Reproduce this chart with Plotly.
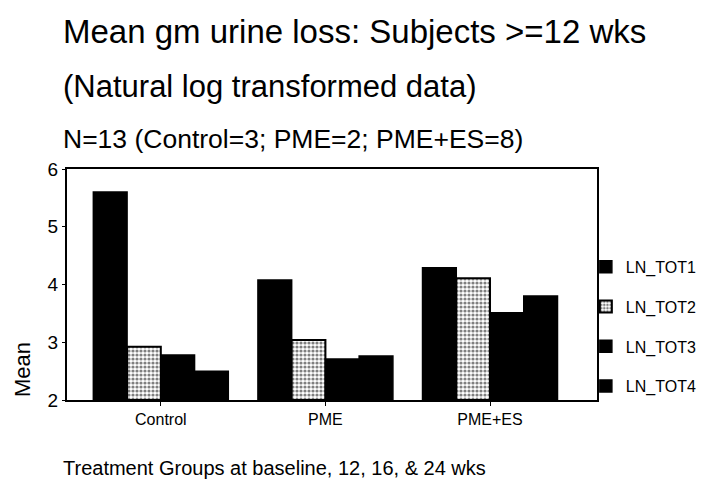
import plotly.graph_objects as go

categories = ["Control", "PME", "PME+ES"]
series_names = ["LN_TOT1", "LN_TOT2", "LN_TOT3", "LN_TOT4"]
ln_tot1 = [5.60, 4.08, 4.29]
ln_tot2 = [2.92, 3.04, 4.11]
ln_tot3 = [2.78, 2.71, 3.51]
ln_tot4 = [2.50, 2.76, 3.80]
y_ticks = [2, 3, 4, 5, 6]

FONT = "Liberation Sans, Arial, sans-serif"

fig = go.Figure()
values = [ln_tot1, ln_tot2, ln_tot3, ln_tot4]
for name, vals in zip(series_names, values):
    if name == "LN_TOT2":
        marker = dict(color="white",
                      pattern=dict(shape=".", fgcolor="black", bgcolor="white",
                                   size=4, solidity=0.5),
                      line=dict(color="black", width=2))
    else:
        marker = dict(color="black", line=dict(color="black", width=1.5))
    fig.add_trace(go.Bar(x=categories, y=[v - 2 for v in vals], base=2,
                         name=name, marker=marker, legendgroup=name))

fig.update_layout(
    width=703, height=476,
    margin=dict(l=59, r=114, t=161, b=84, autoexpand=False),
    paper_bgcolor="white", plot_bgcolor="white",
    barmode="group", bargap=0.18, bargroupgap=0,
    font=dict(family=FONT, color="black"),
    showlegend=True,
    legend=dict(xref="container", yref="container",
                x=0.822, xanchor="left", y=0.492, yanchor="top",
                font=dict(size=16, family=FONT), tracegroupgap=16,
                itemwidth=30, bgcolor="rgba(0,0,0,0)"),
    xaxis=dict(range=[-0.57, 2.65], showline=True, linecolor="black",
               linewidth=2, mirror=True, ticks="outside", ticklen=4,
               tickcolor="black", tickfont=dict(size=16, family=FONT),
               showgrid=False),
    yaxis=dict(range=[2, 6], tickvals=y_ticks, showline=True,
               linecolor="black", linewidth=2, mirror=True, ticks="outside",
               ticklen=3, tickcolor="black", tickfont=dict(size=19, family=FONT),
               showgrid=False, zeroline=False),
)

annos = [
    ("Mean gm urine loss: Subjects >=12 wks", 1.597, 33),
    ("(Natural log transformed data)", 1.359, 31),
    ("N=13 (Control=3; PME=2; PME+ES=8)", 1.13, 26.5),
]
for text, y, size in annos:
    fig.add_annotation(text=text, xref="paper", yref="paper", x=-0.011, y=y,
                       xanchor="left", yanchor="middle", showarrow=False,
                       font=dict(size=size, family=FONT, color="black"))

fig.add_annotation(text="Treatment Groups at baseline, 12, 16, & 24 wks",
                   xref="paper", yref="paper", x=-0.011, y=-0.294,
                   xanchor="left", yanchor="middle", showarrow=False,
                   font=dict(size=20, family=FONT, color="black"))
fig.add_annotation(text="Mean", xref="paper", yref="paper", x=-0.083, y=0.13,
                   xanchor="center", yanchor="middle", textangle=-90,
                   showarrow=False, font=dict(size=22, family=FONT, color="black"))

fig.write_html("out.html")
